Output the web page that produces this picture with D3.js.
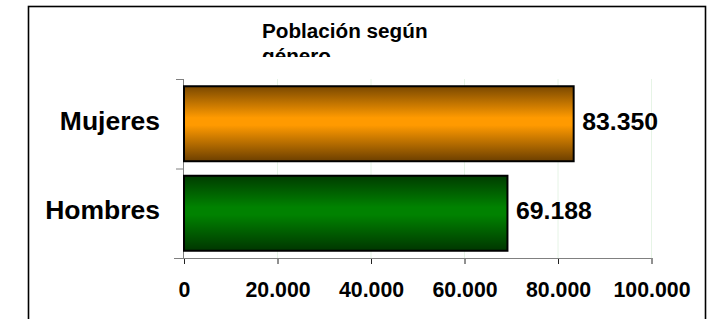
<!DOCTYPE html>
<html>
<head>
<meta charset="utf-8">
<script src="https://cdn.jsdelivr.net/npm/d3@7"></script>
<style>
  body { margin: 0; background: #fff; }
  text { font-family: Arial, "Liberation Sans", sans-serif; font-weight: bold; fill: #000; }
</style>
</head>
<body>
<svg id="chart" width="712" height="319"></svg>
<script>
var categories = ["Mujeres", "Hombres"];
var values = [83350, 69188];
var tickValues = [0, 20000, 40000, 60000, 80000, 100000];
var titleLines = ["Población según", "género"];

var svg = d3.select("#chart");
var es = d3.formatLocale({decimal: ",", thousands: ".", grouping: [3], currency: ["", " €"]});
var fmt = es.format(",d");

var x = d3.scaleLinear().domain([0, 100000]).range([184, 651.5]);
// cells between the category ticks
var cell = d3.scaleBand().domain(categories).range([79, 258]);
// bars centred in their cell
var y = d3.scaleBand().domain(categories).range([79, 258])
  .paddingInner(0.162).paddingOuter(0.081);

// gradients
var defs = svg.append("defs");
var grads = [
  {id: "gOrange", stops: ["#7a4800", "#ff9a00", "#ff9a00", "#6c3f00"]},
  {id: "gGreen", stops: ["#003c00", "#008200", "#008200", "#003600"]}
];
grads.forEach(function(g) {
  var lg = defs.append("linearGradient").attr("id", g.id)
    .attr("x1", 0).attr("y1", 0).attr("x2", 0).attr("y2", 1);
  [0, 0.42, 0.52, 1].forEach(function(o, i) {
    lg.append("stop").attr("offset", o).attr("stop-color", g.stops[i]);
  });
});
defs.append("clipPath").attr("id", "titleClip")
  .append("rect").attr("x", 0).attr("y", 0).attr("width", 712).attr("height", 57);

// frame
svg.append("rect")
  .attr("x", 28.5).attr("y", 6.5).attr("width", 677).attr("height", 340)
  .attr("fill", "none").attr("stroke", "#000").attr("stroke-width", 1.6);

// title
var title = svg.append("text").attr("clip-path", "url(#titleClip)")
  .style("font-size", "20.7px");
title.selectAll("tspan").data(titleLines).enter().append("tspan")
  .attr("x", 262).attr("y", function(d, i) { return 38.3 + i * 25; })
  .text(function(d) { return d; });

// gridlines
svg.append("g").selectAll("line").data(tickValues.slice(1)).enter().append("line")
  .attr("x1", function(d) { return x(d); }).attr("x2", function(d) { return x(d); })
  .attr("y1", 79).attr("y2", 258)
  .attr("stroke", "#e6f4e6").attr("stroke-width", 1);

// x axis
var xAxis = svg.append("g").attr("transform", "translate(0,258)")
  .call(d3.axisBottom(x).tickValues(tickValues).tickSize(6).tickSizeOuter(0).tickFormat(fmt));
xAxis.select(".domain").remove();
xAxis.selectAll(".tick line").attr("stroke", "#222");
xAxis.selectAll(".tick text").attr("y", 39).attr("dy", 0)
  .style("font-size", "21.3px").style("font-family", "Arial, 'Liberation Sans', sans-serif");
svg.append("line").attr("x1", 174).attr("x2", x(100000)).attr("y1", 258.5).attr("y2", 258.5)
  .attr("stroke", "#808080");

// y axis
svg.append("line").attr("x1", 183.5).attr("x2", 183.5).attr("y1", 79).attr("y2", 258)
  .attr("stroke", "#808080");
svg.append("g").selectAll("line").data(categories).enter().append("line")
  .attr("x1", 176).attr("x2", 184)
  .attr("y1", function(d) { return cell(d) + 0.5; })
  .attr("y2", function(d) { return cell(d) + 0.5; })
  .attr("stroke", "#808080");

// bars
svg.append("g").selectAll("rect").data(values).enter().append("rect")
  .attr("x", x(0))
  .attr("y", function(d, i) { return y(categories[i]); })
  .attr("width", function(d) { return x(d) - x(0); })
  .attr("height", y.bandwidth())
  .attr("fill", function(d, i) { return i === 0 ? "url(#gOrange)" : "url(#gGreen)"; })
  .attr("stroke", "#000").attr("stroke-width", 2);

// category labels
svg.append("g").selectAll("text").data(categories).enter().append("text")
  .attr("x", 160).attr("y", function(d) { return y(d) + y.bandwidth() / 2 + 6; })
  .attr("text-anchor", "end").style("font-size", "26.5px")
  .text(function(d) { return d; });

// value labels
svg.append("g").selectAll("text").data(values).enter().append("text")
  .attr("x", function(d) { return x(d) + 8.5; })
  .attr("y", function(d, i) { return y(categories[i]) + y.bandwidth() / 2 + 6; })
  .style("font-size", "24.8px")
  .text(function(d) { return fmt(d); });
</script>
</body>
</html>
